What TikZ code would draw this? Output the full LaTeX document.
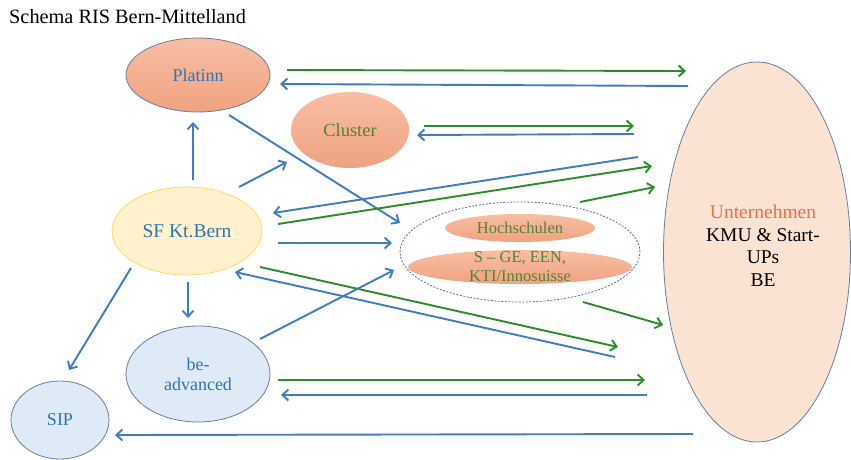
\documentclass[tikz,border=0pt]{standalone}
\usepackage{fontspec}
\setmainfont{Liberation Serif}
\usetikzlibrary{shapes.geometric,arrows.meta}
\definecolor{ablue}{RGB}{61,125,196}
\definecolor{agreen}{RGB}{43,140,43}
\definecolor{tblue}{RGB}{46,116,181}
\definecolor{tgreen}{RGB}{84,130,53}
\definecolor{torange}{RGB}{240,110,60}
\definecolor{salTop}{RGB}{248,190,165}
\definecolor{salBot}{RGB}{240,162,128}
\definecolor{peach}{RGB}{251,227,212}
\definecolor{yfill}{RGB}{255,242,204}
\definecolor{ydraw}{RGB}{255,217,102}
\definecolor{lbfill}{RGB}{222,235,247}
\definecolor{grayblue}{RGB}{105,125,158}
\definecolor{dashblue}{RGB}{85,110,160}
\tikzset{
  shape ell/.style={ellipse, inner sep=0pt},
  salmon/.style={shape ell, top color=salTop, bottom color=salBot},
  txt/.style={align=center, inner sep=0pt, font=\fontsize{18}{20}\selectfont},
  barrow/.style={draw=ablue, line width=1.9pt, -{Straight Barb[length=6pt,width=11pt]}},
  garrow/.style={draw=agreen, line width=1.9pt, -{Straight Barb[length=6pt,width=11pt]}},
}
\begin{document}
\begin{tikzpicture}[x=1pt,y=-1pt]
\useasboundingbox (0,0) rectangle (851,459);

% title
\node[anchor=base west, inner sep=0pt, font=\fontsize{20.3}{22}\selectfont] (title) at (9,23) {Schema RIS Bern-Mittelland};

% nodes (shapes)
\node[salmon, draw=grayblue, line width=0.8pt, minimum width=144pt, minimum height=74pt] (plat) at (198,75) {};
\node[salmon, minimum width=118pt, minimum height=76pt] (clu) at (350,130) {};
\node[shape ell, fill=yfill, draw=ydraw, line width=0.8pt, minimum width=150pt, minimum height=88pt] (sf) at (187,231) {};
\node[shape ell, draw=dashblue, dash pattern=on 2pt off 1.5pt, line width=0.8pt, minimum width=240pt, minimum height=100pt] (hs) at (520,252) {};
\node[salmon, minimum width=150pt, minimum height=28pt] (hoch) at (520,228) {};
\node[salmon, minimum width=224pt, minimum height=34pt] (sge) at (520,267) {};
\node[shape ell, fill=peach, draw=grayblue, line width=0.8pt, minimum width=187pt, minimum height=380pt] (unt) at (757,252) {};
\node[shape ell, fill=lbfill, draw=grayblue, line width=0.8pt, minimum width=144pt, minimum height=96pt] (bea) at (198,374) {};
\node[shape ell, fill=lbfill, draw=grayblue, line width=0.8pt, minimum width=98pt, minimum height=78pt] (sip) at (60,420) {};

% texts
\node[txt, text=tblue] (tplat) at (plat) {Platinn};
\node[txt, text=tgreen, font=\fontsize{18.5}{20}\selectfont] (tclu) at (clu) {Cluster};
\node[txt, text=tblue, font=\fontsize{19.5}{22}\selectfont] (tsf) at (sf) {SF Kt.Bern};
\node[txt, text=tgreen, font=\fontsize{16.5}{19}\selectfont] (thoch) at (hoch) {Hochschulen};
\node[txt, text=tgreen, font=\fontsize{16.5}{19}\selectfont] (tsge) at (sge) {S – GE, EEN,\\KTI/Innosuisse};
\node[txt, font=\fontsize{19.5}{22.5}\selectfont] (tunt) at (763,246) {\textcolor{torange}{Unternehmen}\\KMU \& Start-\\UPs\\BE};
\node[txt, text=tblue] (tbea) at (bea) {be-\\advanced};
\node[txt, text=tblue] (tsip) at (sip) {SIP};

% connector end points
\coordinate (c1s) at (287,70);  \coordinate (c1e) at (686,71);
\coordinate (c2s) at (688,86);  \coordinate (c2e) at (280,84);
\coordinate (c3s) at (229,115); \coordinate (c3e) at (400,223);
\coordinate (c4s) at (193,180); \coordinate (c4e) at (193,122);
\coordinate (c5s) at (239,187); \coordinate (c5e) at (287,162);
\coordinate (c6s) at (424,126); \coordinate (c6e) at (634,126);
\coordinate (c7s) at (634,134); \coordinate (c7e) at (417,135);
\coordinate (c8s) at (638,157); \coordinate (c8e) at (273,213);
\coordinate (c9s) at (278,224); \coordinate (c9e) at (652,166);
\coordinate (c10s) at (580,202); \coordinate (c10e) at (655,187);
\coordinate (c11s) at (278,243); \coordinate (c11e) at (392,243);
\coordinate (c12s) at (615,357); \coordinate (c12e) at (235,272);
\coordinate (c13s) at (260,267); \coordinate (c13e) at (618,347);
\coordinate (c14s) at (583,302); \coordinate (c14e) at (663,325);
\coordinate (c15s) at (260,339); \coordinate (c15e) at (394,270);
\coordinate (c16s) at (188,282); \coordinate (c16e) at (188,318);
\coordinate (c17s) at (131,268); \coordinate (c17e) at (69,370);
\coordinate (c18s) at (278,380); \coordinate (c18e) at (645,380);
\coordinate (c19s) at (647,395); \coordinate (c19e) at (281,395);
\coordinate (c20s) at (693,434); \coordinate (c20e) at (115,435);

% connectors
\draw[garrow] (c1s) -- (c1e);
\draw[barrow] (c2s) -- (c2e);
\draw[barrow] (c3s) -- (c3e);
\draw[barrow] (c4s) -- (c4e);
\draw[barrow] (c5s) -- (c5e);
\draw[garrow] (c6s) -- (c6e);
\draw[barrow] (c7s) -- (c7e);
\draw[barrow] (c8s) -- (c8e);
\draw[garrow] (c9s) -- (c9e);
\draw[garrow] (c10s) -- (c10e);
\draw[barrow] (c11s) -- (c11e);
\draw[barrow] (c12s) -- (c12e);
\draw[garrow] (c13s) -- (c13e);
\draw[garrow] (c14s) -- (c14e);
\draw[barrow] (c15s) -- (c15e);
\draw[barrow] (c16s) -- (c16e);
\draw[barrow] (c17s) -- (c17e);
\draw[garrow] (c18s) -- (c18e);
\draw[barrow] (c19s) -- (c19e);
\draw[barrow] (c20s) -- (c20e);
\end{tikzpicture}
\end{document}
